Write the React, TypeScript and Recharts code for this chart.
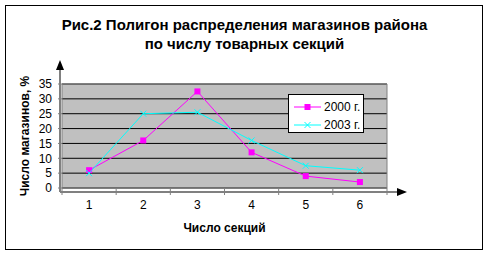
import {
  ComposedChart,
  Line,
  XAxis,
  YAxis,
  CartesianGrid,
  ReferenceArea,
  Legend,
  Customized,
} from "recharts";

const sections = ["1", "2", "3", "4", "5", "6"];
const shops2000 = [6, 16, 32.5, 12, 4, 2];
const shops2003 = [5, 25, 25.5, 16, 7.5, 6];
const yTicks = [0, 5, 10, 15, 20, 25, 30, 35];
const seriesNames = ["2000 г.", "2003 г."];

const data = sections.map((s, i) => ({
  section: s,
  y2000: shops2000[i],
  y2003: shops2003[i],
}));

const FONT = "'Liberation Sans', Arial, sans-serif";
const MAGENTA = "#FF00FF";
const CYAN = "#00FFFF";
const AXIS_GRAY = "#808080";

// plot box, from the margins below
const W = 489;
const H = 256;
const M = { top: 84, right: 102, bottom: 20, left: 12 };
const Y_AXIS_W = 50;
const X_AXIS_H = 48;
const PLOT_LEFT = M.left + Y_AXIS_W;
const PLOT_RIGHT = W - M.right;
const PLOT_BOTTOM = H - M.bottom - X_AXIS_H;

function SquareDot(props: any) {
  const { cx, cy } = props;
  if (cx == null || cy == null) return null;
  return <rect x={cx - 3} y={cy - 3} width={6} height={6} fill={MAGENTA} />;
}

function CrossDot(props: any) {
  const { cx, cy } = props;
  if (cx == null || cy == null) return null;
  return (
    <path
      d={`M${cx - 3},${cy - 3}L${cx + 3},${cy + 3}M${cx - 3},${cy + 3}L${cx + 3},${cy - 3}`}
      stroke={CYAN}
      strokeWidth={1}
      fill="none"
    />
  );
}

// label at band centre, tick marks at band edges (Excel "between categories")
function XTick(props: any) {
  const { x, payload } = props;
  const half = payload?.offset ?? 0;
  const isLast = payload?.value === sections[sections.length - 1];
  const axisY = PLOT_BOTTOM + 4;
  return (
    <g>
      <line x1={x - half} x2={x - half} y1={PLOT_BOTTOM} y2={axisY + 3} stroke={AXIS_GRAY} />
      {isLast && (
        <line x1={x + half} x2={x + half} y1={PLOT_BOTTOM} y2={axisY + 3} stroke={AXIS_GRAY} />
      )}
      <text x={x} y={PLOT_BOTTOM + 21} textAnchor="middle" fontSize={12} fontFamily={FONT} fill="#000">
        {payload.value}
      </text>
    </g>
  );
}

function AxisArrows() {
  const ax = PLOT_LEFT - 2;
  const ay = PLOT_BOTTOM + 4;
  return (
    <g>
      <line x1={ax} x2={ax} y1={ay} y2={66} stroke={AXIS_GRAY} strokeWidth={2} />
      <path d={`M${ax - 4},${70}L${ax},${60}L${ax + 4},${70}Z`} fill="#000" />
      <line x1={ax} x2={PLOT_RIGHT + 14} y1={ay} y2={ay} stroke={AXIS_GRAY} strokeWidth={2} />
      <path d={`M${PLOT_RIGHT + 10},${ay - 4}L${PLOT_RIGHT + 20},${ay}L${PLOT_RIGHT + 10},${ay + 4}Z`} fill="#000" />
    </g>
  );
}

function LegendBox() {
  const rows = [
    { name: seriesNames[0], color: MAGENTA, cross: false },
    { name: seriesNames[1], color: CYAN, cross: true },
  ];
  return (
    <div
      style={{
        background: "#fff",
        border: "1px solid #000",
        width: 76,
        height: 39,
        padding: "2px 0 0 4px",
        boxSizing: "border-box",
        fontFamily: FONT,
        fontSize: 12,
        textAlign: "left",
      }}
    >
      {rows.map((r) => (
        <div key={r.name} style={{ display: "flex", alignItems: "center", height: 17, marginTop: 1 }}>
          <svg width={30} height={10}>
            <line x1={1} x2={28} y1={5} y2={5} stroke={r.color} />
            {r.cross ? (
              <path d="M11.5,2L17.5,8M11.5,8L17.5,2" stroke={r.color} />
            ) : (
              <rect x={11.5} y={2} width={6} height={6} fill={r.color} />
            )}
          </svg>
          <span style={{ marginLeft: 1 }}>{r.name}</span>
        </div>
      ))}
    </div>
  );
}

export default function App() {
  return (
    <div style={{ position: "absolute", left: 0, top: 0, width: W, height: H, background: "#fff" }}>
      <div
        style={{
          position: "absolute",
          left: 5,
          top: 5,
          width: 478,
          height: 245,
          border: "1px solid #000",
          boxSizing: "border-box",
        }}
      />
      <div
        style={{
          position: "absolute",
          left: 0,
          top: 15,
          width: W,
          textAlign: "center",
          fontFamily: FONT,
          fontWeight: "bold",
          fontSize: 15,
          lineHeight: "19px",
        }}
      >
        Рис.2 Полигон распределения магазинов района
        <br />
        по числу товарных секций
      </div>
      <ComposedChart width={W} height={H} data={data} margin={M} style={{ position: "absolute", left: 0, top: 0 }}>
        <CartesianGrid horizontal vertical={false} fill="#C0C0C0" fillOpacity={1} stroke="#000" />
        <ReferenceArea y1={0} y2={35} fill="none" stroke={AXIS_GRAY} strokeWidth={1} ifOverflow="visible" />
        <XAxis
          dataKey="section"
          scale="band"
          height={X_AXIS_H}
          axisLine={false}
          tickLine={false}
          tick={<XTick />}
          interval={0}
          label={{
            value: "Число секций",
            position: "insideBottom",
            offset: 4,
            style: { fontFamily: FONT, fontWeight: "bold", fontSize: 12, fill: "#000" },
          }}
        />
        <YAxis
          width={Y_AXIS_W}
          domain={[0, 35]}
          ticks={yTicks}
          interval={0}
          axisLine={false}
          tickSize={4}
          tickMargin={6}
          tickLine={{ stroke: AXIS_GRAY }}
          tick={{ fontSize: 12, fontFamily: FONT, fill: "#000" }}
          label={{
            value: "Число магазинов, %",
            angle: -90,
            position: "insideLeft",
            offset: 13,
            style: { textAnchor: "middle", fontFamily: FONT, fontWeight: "bold", fontSize: 12, fill: "#000" },
          }}
        />
        <Customized component={AxisArrows} />
        <Line
          type="linear"
          dataKey="y2000"
          name={seriesNames[0]}
          stroke={MAGENTA}
          strokeWidth={1}
          dot={<SquareDot />}
          activeDot={false}
          isAnimationActive={false}
        />
        <Line
          type="linear"
          dataKey="y2003"
          name={seriesNames[1]}
          stroke={CYAN}
          strokeWidth={1}
          dot={<CrossDot />}
          activeDot={false}
          isAnimationActive={false}
        />
        <Legend
          layout="vertical"
          align="center"
          verticalAlign="middle"
          content={<LegendBox />}
          wrapperStyle={{ position: "absolute", left: 288, top: 94, width: 76, height: 39 }}
        />
      </ComposedChart>
    </div>
  );
}
